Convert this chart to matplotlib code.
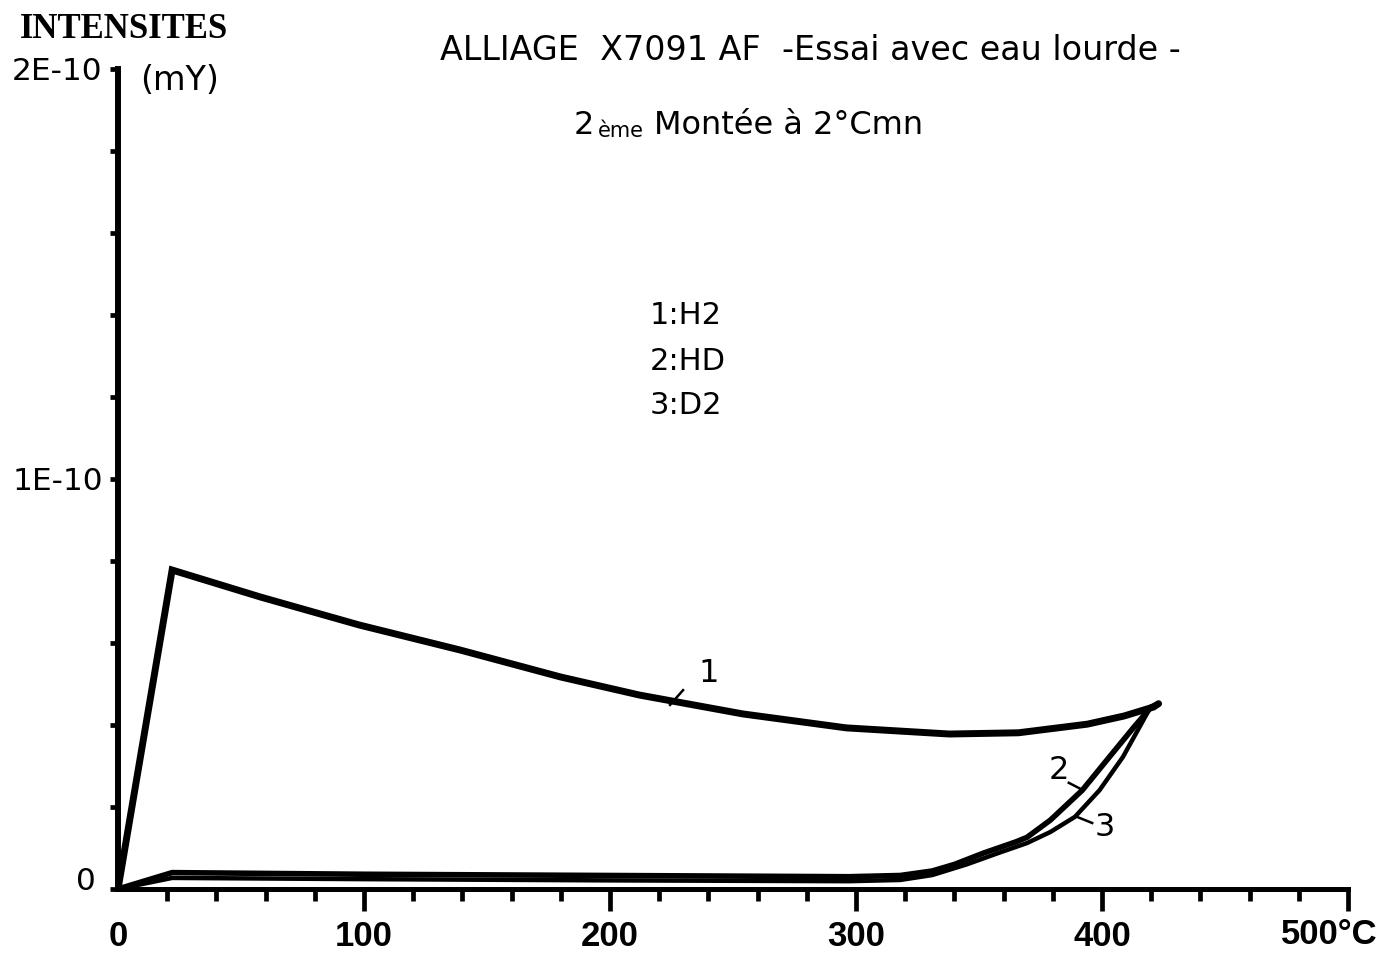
import matplotlib
matplotlib.use("Agg")
import matplotlib.pyplot as plt
from matplotlib.ticker import MultipleLocator, FixedLocator
from matplotlib.transforms import ScaledTranslation

# ---- data (intensities in units of 1E-10 mV, temperature in °C) ----
temp_h2 = [0, 22, 58, 98, 139, 180, 212, 254, 296, 338, 366, 394, 409, 421, 423]
int_h2 = [0, 0.778, 0.712, 0.644, 0.583, 0.517, 0.473, 0.427, 0.393, 0.378, 0.381,
          0.402, 0.422, 0.444, 0.452]

temp_hd = [0, 22, 100, 200, 297, 318, 331, 340, 352, 365, 369.5, 379, 392, 403, 413, 420, 423]
int_hd = [0, 0.040, 0.036, 0.033, 0.030, 0.033, 0.044, 0.060, 0.088, 0.115, 0.126, 0.168,
          0.241, 0.322, 0.395, 0.444, 0.452]

temp_d2 = [0, 22, 100, 200, 297, 318, 331, 345, 358, 369.5, 379, 389, 399, 408.5, 419.5, 423]
int_d2 = [0, 0.027, 0.024, 0.021, 0.019, 0.022, 0.034, 0.060, 0.088, 0.112, 0.139, 0.176,
          0.241, 0.322, 0.441, 0.452]

x_major = [0, 100, 200, 300, 400, 500]
x_labels = ["0", "100", "200", "300", "400", ""]
y_ticks = [0, 0.2, 0.4, 0.6, 0.8, 1.0, 1.2, 1.4, 1.6, 1.8, 2.0]
y_labels = ["0", "", "", "", "", "1E-10", "", "", "", "", "2E-10"]

legend_lines = ["1:H2", "2:HD", "3:D2"]
curve_tags = ["1", "2", "3"]

W, H = 1381, 958
fig = plt.figure(figsize=(W / 100, H / 100), dpi=100)
fig.patch.set_facecolor("white")

def fx(px):
    return px / W

def fy(py):
    return 1 - py / H

ax = fig.add_axes([fx(118), fy(889), (1348 - 118) / W, (889 - 69) / H])
ax.set_xlim(0, 500)
ax.set_ylim(0, 2.0)

ax.plot(temp_h2, int_h2, color="black", lw=5.0, solid_joinstyle="miter", solid_capstyle="round", zorder=3)
ax.plot(temp_hd, int_hd, color="black", lw=4.0, solid_capstyle="round", zorder=3)
ax.plot(temp_d2, int_d2, color="black", lw=3.2, solid_capstyle="round", zorder=3)

for s in ["top", "right"]:
    ax.spines[s].set_visible(False)
ax.spines["left"].set_linewidth(4.3)
ax.spines["bottom"].set_linewidth(3.6)
ax.spines["left"].set_capstyle("projecting")
ax.spines["bottom"].set_capstyle("projecting")

num_font = ["Liberation Sans", "DejaVu Sans"]

ax.xaxis.set_major_locator(FixedLocator(x_major))
ax.set_xticklabels(x_labels, fontsize=25, fontweight="bold", family=num_font)
ax.xaxis.set_minor_locator(MultipleLocator(20))
ax.tick_params(axis="x", which="major", direction="out", length=16, width=3.4, pad=6)
ax.tick_params(axis="x", which="minor", direction="out", length=8.5, width=3.4)
ax.xaxis.get_major_ticks()[0].tick1line.set_visible(False)

ax.set_yticks(y_ticks)
ax.set_yticklabels(y_labels, fontsize=22.5, family="DejaVu Sans")
ax.tick_params(axis="y", which="major", direction="out", length=6, width=3.4, pad=5)
lbl0 = ax.get_yticklabels()[0]
lbl0.set_transform(lbl0.get_transform() + ScaledTranslation(-7 / 100, 10 / 100, fig.dpi_scale_trans))

# "500°C" label
fig.text(fx(1378), fy(935), "500°C", ha="right", va="center", fontsize=25,
         fontweight="bold", family=num_font)

# axis title
fig.text(fx(20), fy(29), "INTENSITES", ha="left", va="center", fontsize=25,
         fontweight="bold", family="Liberation Serif")
fig.text(fx(140), fy(80), "(mY)", ha="left", va="center", fontsize=24, family="DejaVu Sans")

# titles
fig.text(fx(440), fy(50), "ALLIAGE  X7091 AF  -Essai avec eau lourde -", ha="left",
         va="center", fontsize=24, family="DejaVu Sans")
fig.text(fx(574), fy(126), "2", ha="left", va="center", fontsize=23, family="DejaVu Sans")
fig.text(fx(598), fy(131), "ème", ha="left", va="center", fontsize=15, family="DejaVu Sans")
fig.text(fx(654), fy(125), "Montée à 2°Cmn", ha="left", va="center", fontsize=23,
         family="DejaVu Sans")

# legend text
for i, t in enumerate(legend_lines):
    fig.text(fx(650), fy(316 + 45 * i), t, ha="left", va="center", fontsize=22,
             family="DejaVu Sans")

# curve tags with leader lines (data coordinates)
tag_pos = [(240.0, 0.525), (382.5, 0.290), (401.0, 0.150)]
leader_from = [(224.4, 0.449), (392.3, 0.241), (389.8, 0.176)]
leader_to = [(229.7, 0.485), (386.5, 0.259), (396.0, 0.161)]
for tag, p, a, b in zip(curve_tags, tag_pos, leader_from, leader_to):
    ax.text(p[0], p[1], tag, ha="center", va="center", fontsize=23, family="DejaVu Sans")
    ax.plot([a[0], b[0]], [a[1], b[1]], color="black", lw=1.8)

fig.savefig("out.png", dpi=100, facecolor="white")
